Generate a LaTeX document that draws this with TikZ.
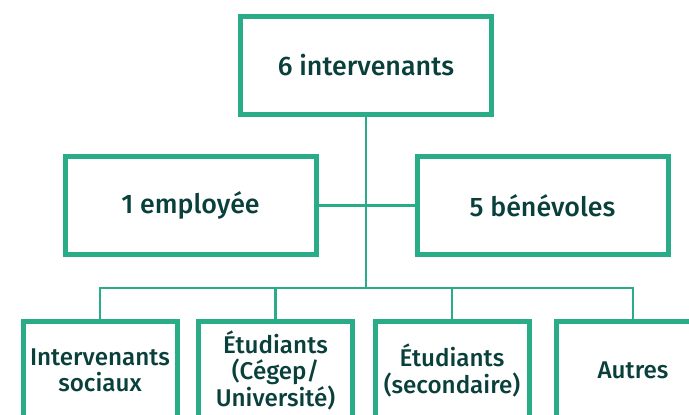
\documentclass[tikz,border=0pt]{standalone}
\usepackage{fontspec}
\setmainfont{Fira Sans}
\newfontfamily\labelfont{Fira Sans Medium}
\definecolor{boxgreen}{RGB}{42,172,137}
\definecolor{labeldark}{RGB}{10,64,60}
\tikzset{
  box/.style={draw=boxgreen, line width=5pt, inner sep=0pt, align=center,
    text=labeldark, font=\labelfont\fontsize{26.8}{30}\selectfont},
  bigbox/.style={box, minimum width=251pt, minimum height=98pt},
  smallbox/.style={box, minimum width=154pt, minimum height=98pt,
    font=\labelfont\fontsize{24.2}{26.5}\selectfont},
  link/.style={draw=boxgreen, line width=2.5pt}
}
\begin{document}
\begin{tikzpicture}[x=1pt,y=-1pt]
                \clip (0,0) rectangle (689,415);
                \node[bigbox] (total) at (366,65.5) {6 intervenants};
                \node[bigbox] (employee) at (190.5,205.5) {1 employée};
                \node[bigbox] (benevoles) at (542.5,205.5) {5 bénévoles};

                \node[smallbox] (sociaux) at (100,370.5) {Intervenants\\sociaux};
                \node[smallbox] (cegep) at (275.5,370.5) {Étudiants\\(Cégep/\\Université)};
                \node[smallbox] (secondaire) at (452,370.5) {Étudiants\\(secondaire)};
                \node[smallbox] (autres) at (633,370.5) {Autres};

                \coordinate (bus) at (366,288);

                \draw[link] (total) -- (bus);
                \draw[link] (employee) -- (benevoles);
                \draw[link] (sociaux.north) |- (autres.north |- bus) -- (autres.north);
                \draw[link] (cegep.north) -- (cegep.north |- bus);
                \draw[link] (secondaire.north) -- (secondaire.north |- bus);
            \end{tikzpicture}
\end{document}
